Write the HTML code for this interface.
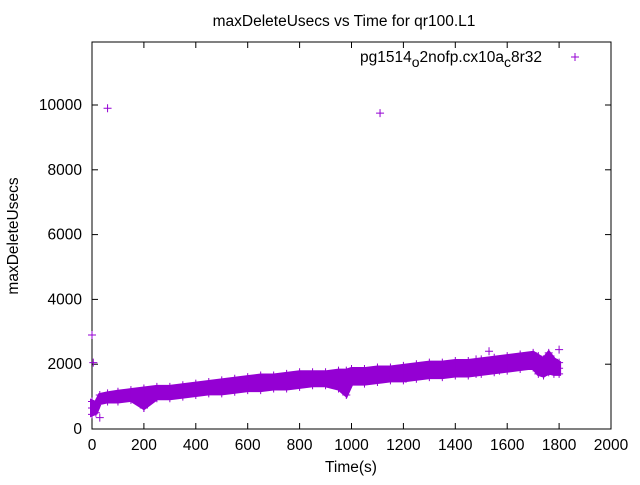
<!DOCTYPE html>
<html><head><meta charset="utf-8"><style>
body{margin:0;background:#fff;font-family:"Liberation Sans",sans-serif}
text{font-family:"Liberation Sans",sans-serif;font-size:15.5px;fill:#000}
</style></head><body>
<svg id="chart" width="640" height="480" xmlns="http://www.w3.org/2000/svg">
<rect width="640" height="480" fill="#fff"/>
<text x="344" y="26" text-anchor="middle">maxDeleteUsecs vs Time for qr100.L1</text>
<text transform="translate(18,236) rotate(-90)" text-anchor="middle">maxDeleteUsecs</text>
<text x="351" y="472" text-anchor="middle">Time(s)</text>
<rect x="92" y="42" width="519" height="387" fill="none" stroke="#000" stroke-width="1"/>
<g id="ticks"></g>
<g id="band"></g>
<g id="marks"></g>
<text x="360" y="62">pg1514<tspan dy="5" font-size="14">o</tspan><tspan dy="-5">2nofp.cx10a</tspan><tspan dy="5" font-size="14">c</tspan><tspan dy="-5">8r32</tspan></text>
<g stroke="#9400d3" stroke-width="1"><line x1="571" y1="57" x2="579" y2="57"/><line x1="575" y1="53" x2="575" y2="61"/></g>
</svg>
<script>
const xTicks=[0,200,400,600,800,1000,1200,1400,1600,1800,2000];
const yTicks=[0,2000,4000,6000,8000,10000];
const times=[0,15,30,60,100,150,200,250,300,350,400,450,500,550,600,650,700,750,800,850,900,950,980,1000,1050,1100,1150,1200,1250,1300,1350,1400,1450,1500,1550,1600,1650,1700,1720,1740,1760,1780,1800];
const lows=[450,500,800,850,850,900,650,950,950,1000,1050,1100,1100,1150,1200,1200,1250,1250,1300,1350,1350,1250,1050,1400,1400,1450,1500,1500,1550,1600,1600,1650,1650,1700,1750,1800,1850,1900,1700,1650,1750,1700,1700];
const highs=[850,800,1050,1100,1150,1200,1250,1300,1300,1350,1400,1450,1500,1550,1600,1650,1650,1700,1750,1750,1750,1800,1800,1850,1850,1900,1900,1950,2000,2050,2050,2100,2100,2150,2200,2250,2300,2350,2250,2150,2350,2150,2050];
const outlierT=[0,5,60,1110,1800,30,200,1480,1480,1210,1570,1530];
const outlierV=[2900,2050,9900,9750,2450,350,650,1700,2150,1550,1800,2400];
const X=t=>92+t*519/2000, Y=v=>429-v*324/10000;
const NS="http://www.w3.org/2000/svg";
const tk=document.getElementById('ticks');
function mk(tag,attrs,parent){const e=document.createElementNS(NS,tag);for(const k in attrs)e.setAttribute(k,attrs[k]);parent.appendChild(e);return e;}
xTicks.forEach(t=>{
 const l=mk('line',{x1:X(t),x2:X(t),y1:429,y2:423,stroke:'#000'},tk);
 
 
 const l2=mk('line',{x1:X(t),x2:X(t),y1:42,y2:48,stroke:'#000'},tk);
 
 
 const tx=mk('text',{x:X(t),y:450,'text-anchor':'middle'},tk);tx.textContent=t;
 
 
});
yTicks.forEach(v=>{
 const l=mk('line',{x1:92,x2:98,y1:Y(v),y2:Y(v),stroke:'#000'},tk);
 
 
 const l2=mk('line',{x1:611,x2:605,y1:Y(v),y2:Y(v),stroke:'#000'},tk);
 
 
 const tx=mk('text',{x:82,y:Y(v)+5,'text-anchor':'end'},tk);tx.textContent=v;
 
 
});
let pts=times.map((t,i)=>X(t)+','+Y(highs[i])).concat(times.map((t,i)=>X(t)+','+Y(lows[i])).reverse());
const band=mk('polygon',{points:pts.join(' '),fill:'#9400d3',stroke:'#9400d3','stroke-width':4},document.getElementById('band'));


const mg=document.getElementById('marks');
function plus(t,v){const g=mk('path',{d:`M${X(t)-4},${Y(v)}h8M${X(t)},${Y(v)-4}v8`,stroke:'#9400d3','stroke-width':1},mg);
 
 }
times.forEach((t,i)=>{plus(t,lows[i]);plus(t,highs[i]);plus(t,(lows[i]+highs[i])/2);});
outlierT.forEach((t,i)=>plus(t,outlierV[i]));
</script>
</body></html>
